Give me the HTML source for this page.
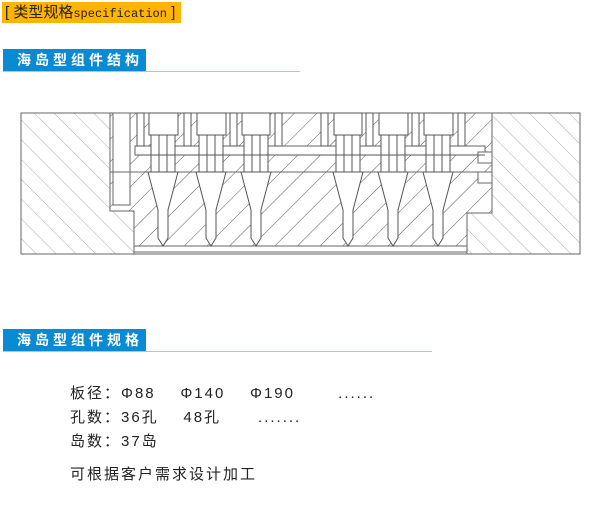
<!DOCTYPE html>
<html><head><meta charset="utf-8"><style>
body{margin:0;background:#fff;width:604px;height:514px;position:relative;overflow:hidden;font-family:"Liberation Sans","Noto Sans CJK SC",sans-serif}
.hd{position:absolute;left:2px;top:2px;width:179px;height:21px;background:#ffb400;font-size:15px;line-height:21px;color:#222;padding-left:3px;box-sizing:border-box;white-space:nowrap}
.hd span{font-family:"Liberation Mono",monospace;font-size:12px}
.tab{position:absolute;left:3px;width:143px;height:22px;background:#0a8ad3;color:#fff;font-size:14px;line-height:22px;padding-left:14px;box-sizing:border-box;letter-spacing:4px;font-weight:bold}
.ln{position:absolute;left:3px;height:1px;background:#8fd0f2}
.t{position:absolute;left:70px;font-size:15px;color:#222;letter-spacing:2px;white-space:pre}
</style></head><body>
<div class="hd">[ 类型规格<span>specification</span> ]</div>
<div class="tab" style="top:49px">海岛型组件结构</div>
<div class="ln" style="top:71px;width:297px"></div>
<div class="tab" style="top:329px">海岛型组件规格</div>
<div class="ln" style="top:351px;width:429px"></div>
<svg style="position:absolute;left:0;top:0" width="604" height="300">
<defs>
<pattern id="hb" width="14" height="14" patternUnits="userSpaceOnUse" patternTransform="rotate(-45)"><line x1="0" y1="0" x2="0" y2="14" stroke="#aaa" stroke-width="1"/></pattern>
<pattern id="hc" width="16" height="16" patternUnits="userSpaceOnUse" patternTransform="rotate(45)"><line x1="0" y1="0" x2="0" y2="16" stroke="#555" stroke-width="1"/></pattern>
</defs>
<g stroke="#666" stroke-width="1">
<rect x="21" y="113" width="559" height="141" fill="none"/>
<path d="M21 113H110V211H134V254H21Z" fill="url(#hb)"/>
<path d="M492 113H580V254H467V213H492Z" fill="url(#hb)"/>
<path d="M110 113H492V213H467V246H134V211H110Z" fill="url(#hc)"/>
<rect x="134" y="246" width="333" height="6" fill="#fff"/>
<rect x="113" y="113" width="17" height="92" fill="#fff"/>
<rect x="135" y="146" width="350" height="9" fill="#fff"/>
<line x1="110" y1="172" x2="492" y2="172"/>
<rect x="478" y="152" width="14" height="11" fill="#fff"/>
<rect x="478" y="172" width="14" height="11" fill="#fff"/>
</g>
<g stroke="#555" stroke-width="1" fill="#fff">
<rect x="149" y="113" width="29" height="22"/><rect x="197" y="113" width="29" height="22"/><rect x="242" y="113" width="28" height="22"/>
<rect x="334" y="113" width="28" height="22"/><rect x="379" y="113" width="29" height="22"/><rect x="424" y="113" width="29" height="22"/>
<rect x="137" y="113" width="7" height="33"/><rect x="184" y="113" width="7" height="33"/><rect x="230" y="113" width="7" height="33"/><rect x="275" y="113" width="7" height="33"/>
<rect x="321" y="113" width="7" height="33"/><rect x="366" y="113" width="7" height="33"/><rect x="412" y="113" width="7" height="33"/><rect x="458" y="113" width="7" height="33"/>
</g>
<g stroke="#555" stroke-width="1" fill="#fff">
<g transform="translate(163,0)"><rect x="-12" y="135" width="24" height="37"/><line x1="-4" y1="135" x2="-4" y2="172"/><line x1="4" y1="135" x2="4" y2="172"/><path d="M-15 172H15L5 210V238L0 246L-5 238V210Z"/></g>
<g transform="translate(211,0)"><rect x="-12" y="135" width="24" height="37"/><line x1="-4" y1="135" x2="-4" y2="172"/><line x1="4" y1="135" x2="4" y2="172"/><path d="M-15 172H15L5 210V238L0 246L-5 238V210Z"/></g>
<g transform="translate(256,0)"><rect x="-12" y="135" width="24" height="37"/><line x1="-4" y1="135" x2="-4" y2="172"/><line x1="4" y1="135" x2="4" y2="172"/><path d="M-15 172H15L5 210V238L0 246L-5 238V210Z"/></g>
<g transform="translate(348,0)"><rect x="-12" y="135" width="24" height="37"/><line x1="-4" y1="135" x2="-4" y2="172"/><line x1="4" y1="135" x2="4" y2="172"/><path d="M-15 172H15L5 210V238L0 246L-5 238V210Z"/></g>
<g transform="translate(393,0)"><rect x="-12" y="135" width="24" height="37"/><line x1="-4" y1="135" x2="-4" y2="172"/><line x1="4" y1="135" x2="4" y2="172"/><path d="M-15 172H15L5 210V238L0 246L-5 238V210Z"/></g>
<g transform="translate(438,0)"><rect x="-12" y="135" width="24" height="37"/><line x1="-4" y1="135" x2="-4" y2="172"/><line x1="4" y1="135" x2="4" y2="172"/><path d="M-15 172H15L5 210V238L0 246L-5 238V210Z"/></g>
</g>
<line x1="135" y1="155" x2="485" y2="155" stroke="#555"/>
</svg>
<div class="t" style="top:382px">板径：Φ88    Φ140    Φ190       ......</div>
<div class="t" style="top:406px">孔数：36孔    48孔      .......</div>
<div class="t" style="top:430px">岛数：37岛</div>
<div class="t" style="top:463px">可根据客户需求设计加工</div>
</body></html>
